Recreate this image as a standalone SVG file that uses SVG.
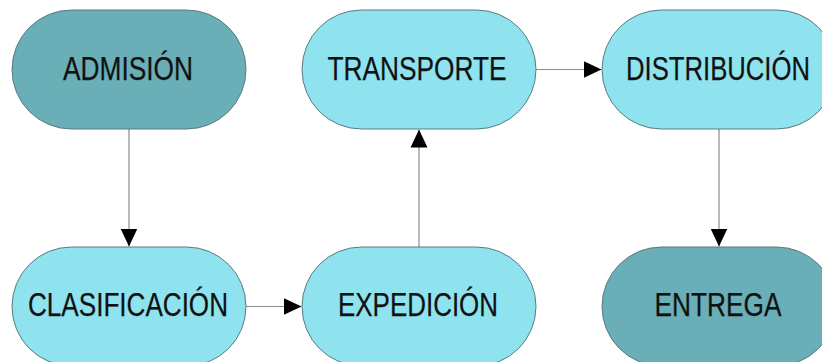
<svg xmlns="http://www.w3.org/2000/svg" width="822" height="362" viewBox="0 0 822 362">
<style>
.node rect{stroke:#5a7a82;stroke-width:1}
.dark rect{fill:#6aaeb7}
.light rect{fill:#8fe3ef}
text{font-family:"Liberation Sans",Arial,sans-serif;font-size:34px;fill:#111;stroke:#111;stroke-width:0.25;text-anchor:middle}
#connectors line{stroke:#8a8a8a;stroke-width:1.2;fill:none}
</style>
<defs>
<marker id="arr" markerUnits="userSpaceOnUse" markerWidth="18" markerHeight="18" viewBox="0 0 17 16" refX="17" refY="8" orient="auto">
<path d="M0,0 L17,8 L0,16 Z" fill="#000"/>
</marker>
</defs>
<rect width="822" height="362" fill="#fff"/>
<g id="connectors">
<line x1="129" y1="129" x2="129" y2="246.5" marker-end="url(#arr)"/>
<line x1="246" y1="306.5" x2="301.5" y2="306.5" marker-end="url(#arr)"/>
<line x1="419" y1="247" x2="419" y2="129.5" marker-end="url(#arr)"/>
<line x1="536" y1="69.5" x2="601.5" y2="69.5" marker-end="url(#arr)"/>
<line x1="719" y1="129" x2="719" y2="246.5" marker-end="url(#arr)"/>
</g>
<g id="admision" class="node dark">
<rect x="12" y="10" width="234" height="119" rx="59.5" ry="59.5"/>
<text x="128" y="80" textLength="130" lengthAdjust="spacingAndGlyphs">ADMISIÓN</text>
</g>
<g id="transporte" class="node light">
<rect x="302" y="10" width="234" height="119" rx="59.5" ry="59.5"/>
<text x="417" y="80" textLength="179" lengthAdjust="spacingAndGlyphs">TRANSPORTE</text>
</g>
<g id="distribucion" class="node light">
<rect x="602" y="10" width="234" height="119" rx="59.5" ry="59.5"/>
<text x="718" y="80" textLength="184" lengthAdjust="spacingAndGlyphs">DISTRIBUCIÓN</text>
</g>
<g id="clasificacion" class="node light">
<rect x="12" y="247" width="234" height="119" rx="59.5" ry="59.5"/>
<text x="128" y="316" textLength="200" lengthAdjust="spacingAndGlyphs">CLASIFICACIÓN</text>
</g>
<g id="expedicion" class="node light">
<rect x="302" y="247" width="234" height="119" rx="59.5" ry="59.5"/>
<text x="418" y="316" textLength="160" lengthAdjust="spacingAndGlyphs">EXPEDICIÓN</text>
</g>
<g id="entrega" class="node dark">
<rect x="602" y="247" width="234" height="119" rx="59.5" ry="59.5"/>
<text x="718" y="316" textLength="127" lengthAdjust="spacingAndGlyphs">ENTREGA</text>
</g>
</svg>
